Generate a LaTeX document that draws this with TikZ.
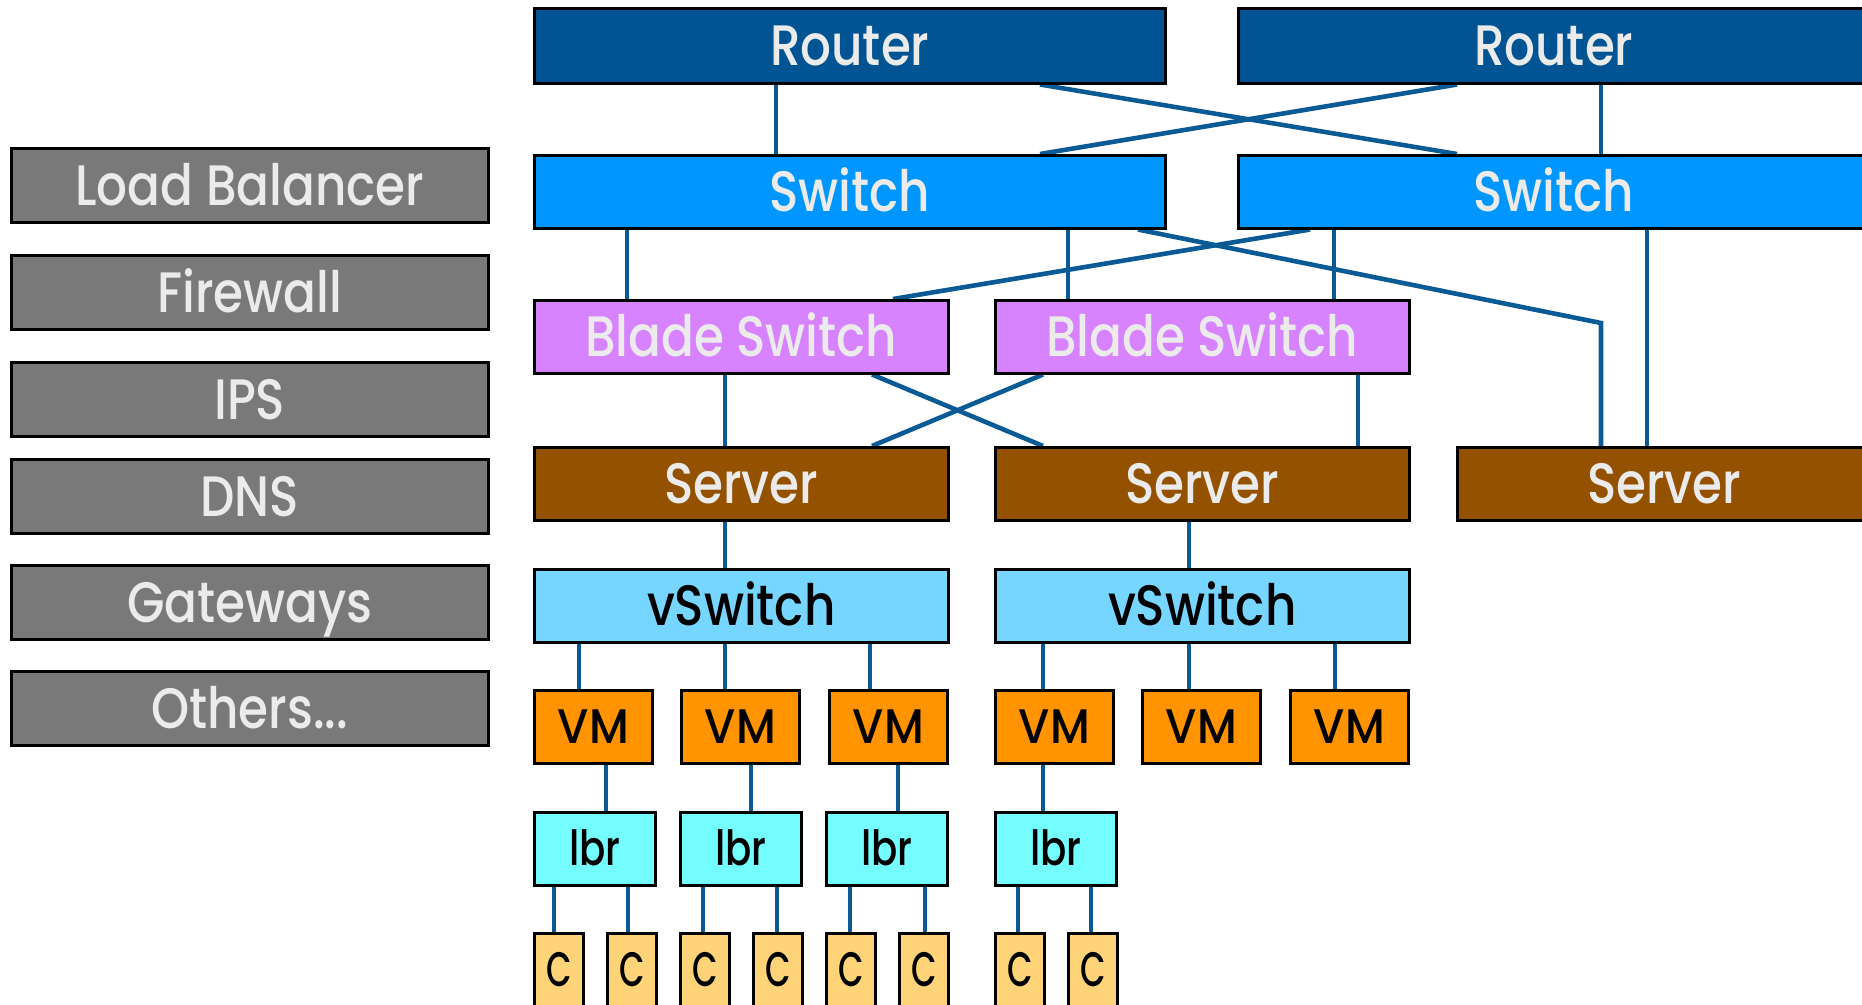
\documentclass[tikz,border=0pt]{standalone}
\usepackage{fontspec}
\setmainfont{Poppins Medium}[FakeStretch=0.85]
\newfontfamily\fvm{Poppins Medium}[FakeStretch=0.93]
\newfontfamily\flbr{Poppins Medium}[FakeStretch=0.80]
\newfontfamily\fcc{Poppins Medium}[FakeStretch=0.68]
\usetikzlibrary{backgrounds,calc}
\definecolor{ocean}{HTML}{005493}
\definecolor{aqua}{HTML}{0096FF}
\definecolor{lavender}{HTML}{D783FF}
\definecolor{mocha}{HTML}{945200}
\definecolor{sky}{HTML}{76D6FF}
\definecolor{tangerine}{HTML}{FF9300}
\definecolor{ice}{HTML}{73FDFF}
\definecolor{cantaloupe}{HTML}{FFD479}
\definecolor{steel}{HTML}{797979}
\definecolor{txtlight}{HTML}{EBEBEB}
\definecolor{linkc}{HTML}{0A5A96}
\tikzset{
  box/.style={draw=black, line width=2.5pt, anchor=north west, inner sep=0pt,
    minimum height=73pt, font=\fontsize{57}{60}\selectfont, text height=40pt, text depth=0pt},
  darkbox/.style={box, text=txtlight},
  lightbox/.style={box, text=black},
  routerbox/.style={darkbox, fill=ocean, minimum width=631pt, minimum height=75pt},
  switchbox/.style={darkbox, fill=aqua, minimum width=631pt},
  bladebox/.style={darkbox, fill=lavender, minimum width=414pt},
  serverbox/.style={darkbox, fill=mocha, minimum width=414pt},
  vswitchbox/.style={lightbox, fill=sky, minimum width=414pt},
  vmbox/.style={lightbox, fill=tangerine, minimum width=118pt, font=\fvm\fontsize{48.5}{50}\selectfont, text height=34pt},
  lbrbox/.style={lightbox, fill=ice, minimum width=121pt, font=\flbr\fontsize{48.5}{50}\selectfont, text height=34pt},
  cbox/.style={lightbox, fill=cantaloupe, minimum width=49pt, minimum height=100pt, font=\fcc\fontsize{48.5}{50}\selectfont, text height=34pt, text depth=28pt},
  svcbox/.style={darkbox, fill=steel, minimum width=477pt, minimum height=74pt},
  link/.style={draw=linkc, line width=4.6pt},
}
\begin{document}
\begin{tikzpicture}[x=1pt,y=-1pt]
\useasboundingbox (0,0) rectangle (1862,1004);
\clip (0,0) rectangle (1862,1004);
% left column
\node[svcbox] (lb) at (10,147) {Load Balancer};
\node[svcbox] (fw) at (10,254) {Firewall};
\node[svcbox] (ips) at (10,361) {IPS};
\node[svcbox] (dns) at (10,458) {DNS};
\node[svcbox] (gw) at (10,564) {Gateways};
\node[svcbox] (oth) at (10,670) {Others...};
% routers and switches
\node[routerbox] (r1) at (533,7) {Router};
\node[routerbox] (r2) at (1237,7) {Router};
\node[switchbox] (s1) at (533,154) {Switch};
\node[switchbox] (s2) at (1237,154) {Switch};
% blade switches
\node[bladebox] (b1) at (533,299) {Blade Switch};
\node[bladebox] (b2) at (994,299) {Blade Switch};
% servers
\node[serverbox] (sv1) at (533,446) {Server};
\node[serverbox] (sv2) at (994,446) {Server};
\node[serverbox] (sv3) at (1456,446) {Server};
% vswitches
\node[vswitchbox] (vs1) at (533,568) {vSwitch};
\node[vswitchbox] (vs2) at (994,568) {vSwitch};
% VMs
\node[vmbox] (vm1) at (533,689) {VM};
\node[vmbox] (vm2) at (680,689) {VM};
\node[vmbox] (vm3) at (828,689) {VM};
\node[vmbox] (vm4) at (994,689) {VM};
\node[vmbox] (vm5) at (1141,689) {VM};
\node[vmbox] (vm6) at (1289,689) {VM};
% lbr
\node[lbrbox] (l1) at (533,811) {lbr};
\node[lbrbox] (l2) at (679,811) {lbr};
\node[lbrbox] (l3) at (825,811) {lbr};
\node[lbrbox] (l4) at (994,811) {lbr};
% containers
\node[cbox] (c1) at (533,932) {C};
\node[cbox] (c2) at (606,932) {C};
\node[cbox] (c3) at (679,932) {C};
\node[cbox] (c4) at (752,932) {C};
\node[cbox] (c5) at (825,932) {C};
\node[cbox] (c6) at (898,932) {C};
\node[cbox] (c7) at (994,932) {C};
\node[cbox] (c8) at (1067,932) {C};
\coordinate (kink) at (1601,323);
\begin{pgfonlayer}{background}
% router - switch
\draw[link] ([xshift=243pt]r1.south west) -- ([xshift=243pt]s1.north west);
\draw[link] ([xshift=364pt]r2.south west) -- ([xshift=364pt]s2.north west);
\draw[link] ([xshift=507pt]r1.south west) -- ([xshift=220pt]s2.north west);
\draw[link] ([xshift=220pt]r2.south west) -- ([xshift=507pt]s1.north west);
% switch - blade
\draw[link] ([xshift=94pt]s1.south west) -- ([xshift=94pt]b1.north west);
\draw[link] ([xshift=535pt]s1.south west) -- ([xshift=74pt]b2.north west);
\draw[link] ([xshift=73pt]s2.south west) -- ([xshift=360pt]b1.north west);
\draw[link] ([xshift=97pt]s2.south west) -- ([xshift=340pt]b2.north west);
% switch - server3
\draw[link] ([xshift=605pt]s1.south west) -- (kink) -- (kink |- sv3.north);
\draw[link] ([xshift=410pt]s2.south west) -- ([xshift=191pt]sv3.north west);
% blade - server
\draw[link] ([xshift=192pt]b1.south west) -- ([xshift=192pt]sv1.north west);
\draw[link] ([xshift=339pt]b1.south west) -- ([xshift=49pt]sv2.north west);
\draw[link] ([xshift=49pt]b2.south west) -- ([xshift=339pt]sv1.north west);
\draw[link] ([xshift=364pt]b2.south west) -- ([xshift=364pt]sv2.north west);
% server - vswitch
\draw[link] ([xshift=192pt]sv1.south west) -- ([xshift=192pt]vs1.north west);
\draw[link] ([xshift=195pt]sv2.south west) -- ([xshift=195pt]vs2.north west);
% vswitch - vm
\draw[link] ([xshift=46pt]vs1.south west) -- ([xshift=46pt]vm1.north west);
\draw[link] ([xshift=192pt]vs1.south west) -- ([xshift=45pt]vm2.north west);
\draw[link] ([xshift=337pt]vs1.south west) -- ([xshift=42pt]vm3.north west);
\draw[link] ([xshift=49pt]vs2.south west) -- ([xshift=49pt]vm4.north west);
\draw[link] ([xshift=195pt]vs2.south west) -- ([xshift=48pt]vm5.north west);
\draw[link] ([xshift=341pt]vs2.south west) -- ([xshift=46pt]vm6.north west);
% vm - lbr
\draw[link] ([xshift=73pt]vm1.south west) -- ([xshift=73pt]l1.north west);
\draw[link] ([xshift=71pt]vm2.south west) -- ([xshift=72pt]l2.north west);
\draw[link] ([xshift=70pt]vm3.south west) -- ([xshift=73pt]l3.north west);
\draw[link] ([xshift=49pt]vm4.south west) -- ([xshift=49pt]l4.north west);
% lbr - c
\draw[link] ([xshift=21pt]l1.south west) -- ([xshift=21pt]c1.north west);
\draw[link] ([xshift=95pt]l1.south west) -- ([xshift=22pt]c2.north west);
\draw[link] ([xshift=24pt]l2.south west) -- ([xshift=24pt]c3.north west);
\draw[link] ([xshift=98pt]l2.south west) -- ([xshift=25pt]c4.north west);
\draw[link] ([xshift=25pt]l3.south west) -- ([xshift=25pt]c5.north west);
\draw[link] ([xshift=100pt]l3.south west) -- ([xshift=27pt]c6.north west);
\draw[link] ([xshift=24pt]l4.south west) -- ([xshift=24pt]c7.north west);
\draw[link] ([xshift=97pt]l4.south west) -- ([xshift=24pt]c8.north west);
\end{pgfonlayer}
\end{tikzpicture}
\end{document}
